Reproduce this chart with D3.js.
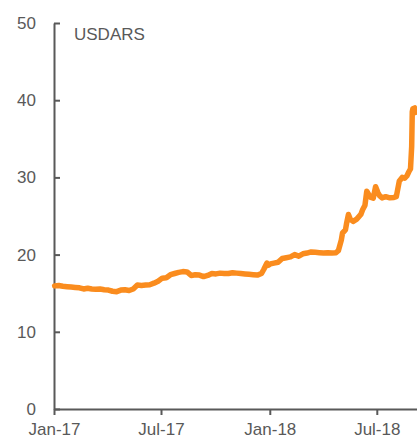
<html>
<head>
<title>USDARS</title>
<script src="https://d3js.org/d3.v7.min.js"></script>
<style>
  body { margin: 0; background: #fff; }
  text { font-family: "Liberation Sans", Arial, sans-serif; fill: #595959; }
  .axis path, .axis line { stroke: #595959; stroke-width: 2; }
</style>
</head>
<body>
<script>
// Series (USD/ARS)
var dates = [
  "2017-01-02","2017-01-09","2017-01-16","2017-01-23","2017-01-30","2017-02-06","2017-02-13","2017-02-20",
  "2017-02-27","2017-03-06","2017-03-13","2017-03-20","2017-03-27","2017-04-03","2017-04-10","2017-04-17",
  "2017-04-24","2017-05-01","2017-05-08","2017-05-15","2017-05-22","2017-05-29","2017-06-05","2017-06-12",
  "2017-06-19","2017-06-26","2017-07-03","2017-07-10","2017-07-17","2017-07-24","2017-07-31","2017-08-07",
  "2017-08-14","2017-08-21","2017-08-28","2017-09-04","2017-09-11","2017-09-18","2017-09-25","2017-10-02",
  "2017-10-09","2017-10-16","2017-10-23","2017-10-30","2017-11-06","2017-11-13","2017-11-20","2017-11-27",
  "2017-12-04","2017-12-11","2017-12-18","2017-12-22","2017-12-27","2017-12-29",
  "2018-01-02","2018-01-08","2018-01-15","2018-01-22","2018-01-29","2018-02-05","2018-02-12","2018-02-19",
  "2018-02-26","2018-03-05","2018-03-12","2018-03-19","2018-03-26","2018-04-02","2018-04-09","2018-04-16",
  "2018-04-23","2018-04-27","2018-05-02","2018-05-04","2018-05-09","2018-05-11","2018-05-14","2018-05-17",
  "2018-05-22","2018-05-28","2018-06-04","2018-06-07","2018-06-11","2018-06-14","2018-06-18","2018-06-21",
  "2018-06-25","2018-06-29","2018-07-03","2018-07-06","2018-07-10","2018-07-16","2018-07-23","2018-07-30",
  "2018-08-03","2018-08-08","2018-08-13","2018-08-17","2018-08-21","2018-08-24","2018-08-27","2018-08-29",
  "2018-08-30","2018-08-31","2018-09-03","2018-09-04"
];
var values = [
  15.95,16.00,15.90,15.85,15.80,15.75,15.70,15.55,
  15.65,15.55,15.50,15.55,15.45,15.40,15.25,15.20,
  15.40,15.45,15.35,15.55,16.05,16.00,16.05,16.10,
  16.30,16.55,16.95,17.00,17.40,17.55,17.70,17.80,
  17.75,17.30,17.40,17.35,17.15,17.30,17.55,17.50,
  17.60,17.55,17.55,17.65,17.60,17.55,17.50,17.45,
  17.40,17.35,17.55,18.10,18.90,18.60,
  18.80,18.90,19.00,19.50,19.60,19.70,20.00,19.80,
  20.10,20.20,20.35,20.30,20.25,20.20,20.25,20.20,
  20.25,20.50,21.90,22.80,23.20,24.10,25.20,24.60,
  24.30,24.60,25.20,25.80,26.40,28.20,27.70,27.40,
  27.30,28.80,28.00,27.60,27.35,27.50,27.35,27.40,
  27.50,29.50,30.00,29.90,30.20,30.70,31.10,34.00,
  38.50,38.90,39.00,38.40
];
var yTicks = [0, 10, 20, 30, 40, 50];
var xTicks = ["2017-01-01", "2017-07-01", "2018-01-01", "2018-07-01"];
var seriesName = "USDARS";

var parse = d3.timeParse("%Y-%m-%d");
var data = dates.map(function(d, i) { return { date: parse(d), value: values[i] }; });

var W = 417, H = 438;
var svg = d3.select("body").append("svg").attr("width", W).attr("height", H);

var x = d3.scaleTime()
  .domain([parse("2017-01-01"), parse("2018-09-07")])
  .range([54, 417]);
var y = d3.scaleLinear().domain([0, 50]).range([409, 23]);

// y axis, ticks pointing inward
svg.append("g")
  .attr("class", "axis")
  .attr("transform", "translate(54,0)")
  .call(d3.axisLeft(y).tickValues(yTicks).tickSizeInner(-6).tickSizeOuter(0).tickPadding(18))
  .call(function(g) { g.selectAll("text").style("font-size", "17px").attr("fill", "#595959"); });

// x axis
svg.append("g")
  .attr("class", "axis")
  .attr("transform", "translate(0,409)")
  .call(d3.axisBottom(x).tickValues(xTicks.map(parse)).tickFormat(d3.timeFormat("%b-%y"))
    .tickSizeInner(6).tickSizeOuter(0).tickPadding(8))
  .call(function(g) { g.selectAll("text").style("font-size", "17px").attr("fill", "#595959"); });

// series line
svg.append("path")
  .datum(data)
  .attr("fill", "none")
  .attr("stroke", "#FA8C1E")
  .attr("stroke-width", 5.5)
  .attr("stroke-linejoin", "round")
  .attr("stroke-linecap", "round")
  .attr("d", d3.line().x(function(d) { return x(d.date); }).y(function(d) { return y(d.value); }));

svg.append("text")
  .attr("x", 74)
  .attr("y", 40)
  .style("font-size", "17px")
  .text(seriesName);
</script>
</body>
</html>
